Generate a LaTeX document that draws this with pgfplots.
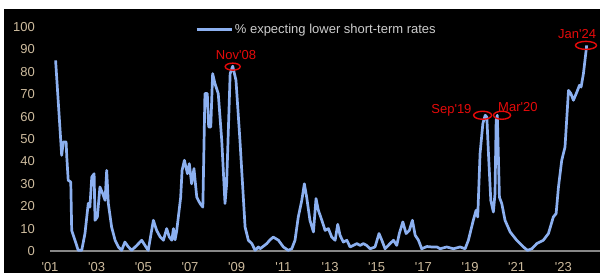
\documentclass[border=0pt]{standalone}
\usepackage{pgfplots}
\pgfplotsset{compat=1.18}
\usepackage{fontspec}
\setmainfont{Liberation Sans}
\definecolor{linecol}{RGB}{140,176,240}
\definecolor{tickcol}{RGB}{206,188,158}
\definecolor{legcol}{RGB}{205,205,205}
\definecolor{annred}{RGB}{230,10,10}
\definecolor{zerocol}{RGB}{135,135,135}
\pgfplotstableread{
x y
2001.24 85.1
2001.46 49.4
2001.50 42.7
2001.57 48.7
2001.69 48.7
2001.72 42.0
2001.78 31.6
2001.89 30.8
2001.93 9.2
2002.07 4.8
2002.21 0.3
2002.36 0.3
2002.50 7.9
2002.64 21.3
2002.71 19.6
2002.79 33.0
2002.89 34.5
2002.93 13.7
2003.03 15.2
2003.14 28.6
2003.26 25.6
2003.36 22.6
2003.43 36.0
2003.50 21.2
2003.64 10.7
2003.79 4.8
2003.93 1.8
2004.07 0.3
2004.21 4.0
2004.36 1.8
2004.50 0.3
2004.72 2.5
2004.93 4.8
2005.07 2.5
2005.21 0.3
2005.43 13.7
2005.57 9.2
2005.72 6.3
2005.86 4.8
2006.00 10.0
2006.11 6.3
2006.22 4.8
2006.29 10.0
2006.36 5.0
2006.43 9.0
2006.60 24.0
2006.66 36.0
2006.76 40.5
2006.89 34.5
2006.97 39.0
2007.07 30.0
2007.17 36.8
2007.29 24.0
2007.43 21.2
2007.55 19.6
2007.64 70.3
2007.74 70.3
2007.80 55.4
2007.89 55.4
2007.97 79.2
2008.07 74.7
2008.21 70.3
2008.36 49.4
2008.50 21.2
2008.57 30.0
2008.72 79.2
2008.83 82.5
2008.97 76.2
2009.14 49.4
2009.36 10.7
2009.50 4.8
2009.65 3.3
2009.79 0.3
2009.93 1.8
2010.00 1.0
2010.13 2.0
2010.29 3.3
2010.43 5.0
2010.57 6.2
2010.79 4.8
2011.00 1.8
2011.21 0.3
2011.36 1.0
2011.50 4.8
2011.64 15.2
2011.79 22.6
2011.90 30.0
2012.00 24.0
2012.14 13.7
2012.29 8.5
2012.40 23.4
2012.50 18.2
2012.65 13.7
2012.79 9.2
2012.93 10.0
2013.07 6.3
2013.22 4.8
2013.33 11.9
2013.43 7.0
2013.57 4.0
2013.72 4.8
2013.86 1.8
2014.00 2.5
2014.15 3.3
2014.29 2.5
2014.43 3.3
2014.57 2.5
2014.72 1.0
2014.93 1.8
2015.10 7.8
2015.22 4.8
2015.36 1.0
2015.57 3.3
2015.72 4.8
2015.86 2.5
2015.97 7.8
2016.12 13.0
2016.26 7.8
2016.40 9.2
2016.53 13.7
2016.65 7.0
2016.79 4.8
2016.93 1.0
2017.15 2.0
2017.36 1.8
2017.58 1.8
2017.72 1.0
2018.00 1.8
2018.29 1.0
2018.57 1.8
2018.79 1.0
2018.93 4.8
2019.14 13.7
2019.26 18.2
2019.33 15.2
2019.43 43.5
2019.55 56.9
2019.65 60.6
2019.72 59.8
2019.79 43.5
2019.89 22.6
2020.00 17.4
2020.07 25.6
2020.12 58.3
2020.17 60.6
2020.26 24.0
2020.36 21.2
2020.50 13.7
2020.72 8.5
2021.00 4.8
2021.29 1.8
2021.46 0.3
2021.65 1.0
2021.86 3.3
2022.14 4.8
2022.36 7.8
2022.57 15.2
2022.69 16.7
2022.79 28.6
2022.93 40.5
2023.07 46.4
2023.22 71.7
2023.32 70.3
2023.43 67.3
2023.58 71.0
2023.69 74.0
2023.76 73.2
2023.86 79.2
2024.00 91.8
}\datatable
\begin{document}
\begin{tikzpicture}
\fill[white] (0,0) rectangle (600pt,273pt);
\fill[black] (4pt,0) rectangle (600pt,264pt);
\useasboundingbox (0,0) rectangle (600pt,273pt);
\begin{axis}[
  scale only axis,
  width=550pt, height=224pt,
  at={(50pt,22pt)}, anchor=south west,
  xmin=2001, xmax=2024.57,
  ymin=0, ymax=100,
  clip=false,
  axis y line*=left,
  y axis line style={draw=none},
  axis x line*=bottom,
  x axis line style={draw=zerocol, line width=2.5pt, -},
  major tick length=0pt,
  tick style={draw=none},
  xtick={2001,2003,...,2023},
  xticklabels={\textquotesingle01,\textquotesingle03,\textquotesingle05,\textquotesingle07,\textquotesingle09,\textquotesingle11,\textquotesingle13,\textquotesingle15,\textquotesingle17,\textquotesingle19,\textquotesingle21,\textquotesingle23},
  ytick={0,10,...,100},
  /pgf/number format/assume math mode=true,
  ticklabel style={font=\fontsize{13}{15}\selectfont, text=tickcol},
  yticklabel style={anchor=east, inner sep=0pt, xshift=-15pt},
  xticklabel style={anchor=center, inner sep=0pt, yshift=-16pt},
  legend style={draw=none, fill=none, at={(0.2636,0.99)}, anchor=west,
    inner sep=0pt, font=\fontsize{13}{15}\selectfont, text=legcol,
    /tikz/every even column/.append style={column sep=0pt}},
  legend cell align=left,
  legend image code/.code={\draw[#1] (0pt,0pt) -- (35pt,0pt);},
]
\addplot[color=linecol, line width=2.7pt, line join=round] table[x=x,y=y] {\datatable};
\addlegendentry{\% expecting lower short-term rates}
\draw[annred, line width=1.4pt] (axis cs:2008.83,82.3) ellipse [x radius=7.5pt, y radius=3.5pt];
\draw[annred, line width=1.4pt] (axis cs:2019.54,60.6) ellipse [x radius=9pt, y radius=4pt];
\draw[annred, line width=1.4pt] (axis cs:2020.37,60.6) ellipse [x radius=8.5pt, y radius=4pt];
\draw[annred, line width=1.4pt] (axis cs:2023.97,91.8) ellipse [x radius=10.5pt, y radius=4pt];
\node[text=annred, font=\fontsize{13}{15}\selectfont, inner sep=0pt] at (axis cs:2008.97,87.4) {Nov\textquotesingle08};
\node[text=annred, font=\fontsize{13}{15}\selectfont, inner sep=0pt, anchor=east] at (axis cs:2019.07,62.8) {Sep\textquotesingle19};
\node[text=annred, font=\fontsize{13}{15}\selectfont, inner sep=0pt, anchor=west] at (axis cs:2020.2,64.3) {Mar\textquotesingle20};
\node[text=annred, font=\fontsize{13}{15}\selectfont, inner sep=0pt] at (axis cs:2023.59,97) {Jan\textquotesingle24};
\end{axis}
\end{tikzpicture}
\end{document}
